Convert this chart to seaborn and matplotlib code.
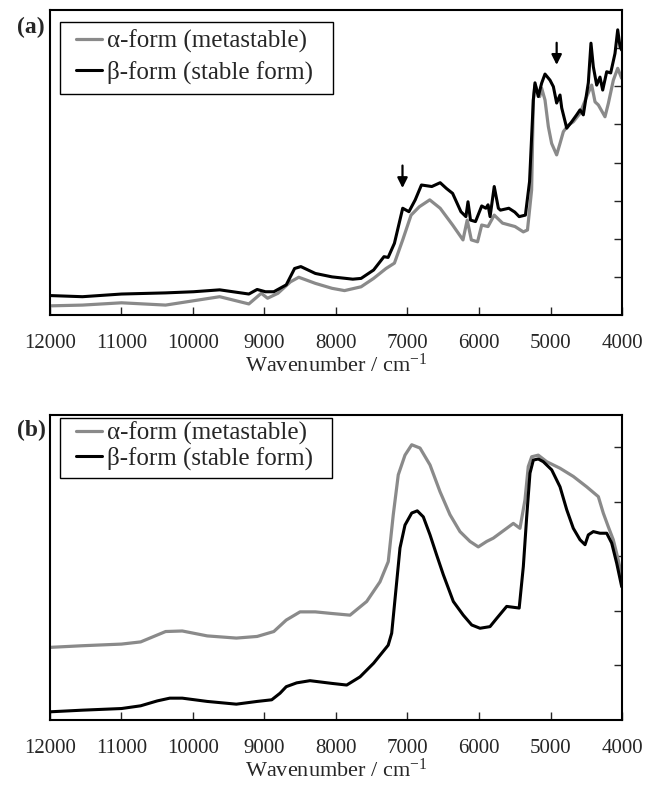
import matplotlib
matplotlib.use("Agg")
import matplotlib.pyplot as plt
from matplotlib.patches import Rectangle
import seaborn as sns
import pandas as pd

# ---------------- data ----------------
# Panel (a)
wn_a_beta = [12000, 11546, 11000, 10383, 9993, 9627, 9219, 9103, 8987, 8870,
             8696, 8579, 8492, 8289, 8056, 7765, 7649, 7474, 7329, 7271,
             7183, 7067, 6980, 6892, 6805, 6660, 6543, 6456, 6369, 6253,
             6183, 6154, 6119, 6049, 5962, 5904, 5874, 5845, 5787, 5729,
             5700, 5583, 5500, 5438, 5351, 5293, 5240, 5217, 5171, 5124,
             5077, 5007, 4960, 4914, 4867, 4843, 4773, 4703, 4634, 4587,
             4541, 4471, 4434, 4401, 4354, 4308, 4270, 4214, 4158, 4098,
             4060, 4028, 4005]
abs_a_beta = [0.051, 0.048, 0.055, 0.058, 0.061, 0.066, 0.055, 0.067, 0.061, 0.061,
              0.079, 0.122, 0.127, 0.109, 0.100, 0.094, 0.096, 0.118, 0.153, 0.151,
              0.188, 0.280, 0.271, 0.302, 0.341, 0.337, 0.347, 0.332, 0.319, 0.271,
              0.258, 0.297, 0.249, 0.245, 0.286, 0.280, 0.289, 0.258, 0.337, 0.280,
              0.275, 0.280, 0.270, 0.258, 0.262, 0.350, 0.564, 0.609, 0.573, 0.608,
              0.632, 0.616, 0.599, 0.556, 0.577, 0.543, 0.490, 0.507, 0.525, 0.538,
              0.525, 0.609, 0.713, 0.651, 0.603, 0.624, 0.590, 0.638, 0.635, 0.686,
              0.748, 0.704, 0.695]

wn_a_alpha = [12000, 11546, 11000, 10383, 9627, 9219, 9045, 8957, 8812, 8637,
              8521, 8289, 8056, 7881, 7649, 7474, 7300, 7183, 7067, 6950,
              6834, 6689, 6543, 6369, 6224, 6165, 6107, 6020, 5962, 5874,
              5787, 5671, 5496, 5380, 5322, 5264, 5240, 5217, 5150, 5124,
              5077, 5030, 4984, 4914, 4867, 4820, 4750, 4680, 4587, 4494,
              4424, 4377, 4331, 4238, 4191, 4121, 4060, 4005]
abs_a_alpha = [0.024, 0.026, 0.032, 0.026, 0.048, 0.029, 0.057, 0.044, 0.057, 0.087,
               0.099, 0.083, 0.070, 0.064, 0.074, 0.096, 0.122, 0.136, 0.197, 0.262,
               0.284, 0.302, 0.280, 0.236, 0.197, 0.249, 0.197, 0.192, 0.236, 0.232,
               0.262, 0.241, 0.232, 0.218, 0.223, 0.328, 0.564, 0.603, 0.573, 0.595,
               0.564, 0.494, 0.450, 0.420, 0.450, 0.481, 0.498, 0.507, 0.529, 0.573,
               0.603, 0.559, 0.551, 0.520, 0.555, 0.616, 0.647, 0.621]

# Panel (b)
wn_b_beta = [12000, 11546, 11000, 10732, 10499, 10325, 10150, 9801, 9394, 9103,
             8899, 8783, 8696, 8550, 8364, 8056, 7850, 7664, 7474, 7270,
             7221, 7151, 7105, 7035, 6941, 6863, 6779, 6685, 6592, 6499,
             6359, 6220, 6102, 5986, 5846, 5753, 5613, 5438, 5380, 5333,
             5287, 5240, 5171, 5101, 4983, 4867, 4773, 4681, 4587, 4517,
             4471, 4401, 4308, 4214, 4144, 4074, 4004]
abs_b_beta = [0.015, 0.018, 0.021, 0.026, 0.035, 0.040, 0.040, 0.034, 0.029, 0.034,
              0.037, 0.049, 0.061, 0.068, 0.072, 0.067, 0.064, 0.079, 0.104, 0.137,
              0.159, 0.253, 0.315, 0.357, 0.379, 0.383, 0.372, 0.339, 0.302, 0.266,
              0.217, 0.192, 0.174, 0.168, 0.171, 0.186, 0.208, 0.205, 0.281, 0.372,
              0.452, 0.476, 0.478, 0.473, 0.458, 0.427, 0.385, 0.351, 0.330, 0.321,
              0.339, 0.345, 0.342, 0.342, 0.324, 0.287, 0.244]

wn_b_alpha = [12000, 11546, 11000, 10732, 10383, 10150, 9801, 9394, 9103, 8870,
              8696, 8503, 8289, 8056, 7804, 7571, 7385, 7269, 7199, 7129,
              7035, 6941, 6825, 6685, 6545, 6406, 6266, 6126, 6010, 5892,
              5800, 5613, 5520, 5427, 5357, 5311, 5263, 5171, 5053, 4867,
              4681, 4494, 4331, 4262, 4192, 4122, 4052, 4004]
abs_b_alpha = [0.133, 0.136, 0.139, 0.143, 0.162, 0.163, 0.154, 0.150, 0.153, 0.162,
               0.183, 0.198, 0.198, 0.195, 0.192, 0.217, 0.253, 0.290, 0.376, 0.449,
               0.485, 0.504, 0.498, 0.467, 0.418, 0.376, 0.345, 0.327, 0.317, 0.327,
               0.333, 0.351, 0.360, 0.351, 0.403, 0.464, 0.482, 0.485, 0.473, 0.461,
               0.446, 0.427, 0.409, 0.379, 0.354, 0.330, 0.293, 0.263]

# arrows in panel (a): (wavenumber, tail value, head value)
arrow_wn = [7070, 4914]
arrow_tail = [0.392, 0.714]
arrow_head = [0.333, 0.656]

x_ticks = [12000, 11000, 10000, 9000, 8000, 7000, 6000, 5000, 4000]
label_alpha = "α-form (metastable)"
label_beta = "β-form (stable form)"
x_label = "Wavenumber / cm$^{-1}$"

# ---------------- style ----------------
sns.set_style("white")
plt.rcParams["font.family"] = ["Liberation Serif", "DejaVu Serif"]
plt.rcParams["mathtext.fontset"] = "custom"
plt.rcParams["mathtext.rm"] = "Liberation Serif"
plt.rcParams["mathtext.it"] = "Liberation Serif:italic"
plt.rcParams["mathtext.bf"] = "Liberation Serif:bold"

GRAY = "#8a8a8a"
BLACK = "#000000"

fig = plt.figure(figsize=(6.51, 7.98), dpi=100)
W, H = 651.0, 798.0
AXW, AXH = 572.0, 305.0
ax_a = fig.add_axes([50 / W, 1 - 315 / H, AXW / W, AXH / H])
ax_b = fig.add_axes([50 / W, 1 - 720 / H, AXW / W, AXH / H])


def draw(ax, wn_al, ab_al, wn_be, ab_be, ymax, yticks, leg_anchor,
         labelspacing, box):
    d_al = pd.DataFrame({"wn": wn_al, "a": ab_al})
    d_be = pd.DataFrame({"wn": wn_be, "a": ab_be})
    sns.lineplot(data=d_al, x="wn", y="a", ax=ax, color=GRAY, lw=2.3,
                 estimator=None, sort=False, label=label_alpha)
    sns.lineplot(data=d_be, x="wn", y="a", ax=ax, color=BLACK, lw=2.2,
                 estimator=None, sort=False, label=label_beta)
    ax.set_xlim(12000, 4000)
    ax.set_ylim(0, ymax)
    ax.set_xticks(x_ticks)
    ax.set_xticklabels([str(t) for t in x_ticks])
    ax.set_yticks(yticks)
    ax.tick_params(axis="x", direction="in", length=6, width=1, bottom=True,
                   top=False, labelsize=15, pad=14)
    ax.tick_params(axis="y", direction="in", length=6, width=1, left=False,
                   right=True, labelleft=False, labelright=False)
    for s in ax.spines.values():
        s.set_linewidth(1.5)
        s.set_color("black")
    ax.set_xlabel(x_label, fontsize=16, labelpad=0)
    ax.set_ylabel("")
    ax.legend(loc="upper left", bbox_to_anchor=leg_anchor,
              borderaxespad=0, fontsize=18, frameon=False,
              handlelength=1.05, handletextpad=0.2, borderpad=0,
              labelspacing=labelspacing)
    # legend frame (pixel box, relative to the axes)
    x0, y_top, x1, y_bot = box
    ax.add_patch(Rectangle((x0 / AXW, 1 - y_bot / AXH), (x1 - x0) / AXW,
                           (y_bot - y_top) / AXH, transform=ax.transAxes,
                           facecolor="white", edgecolor="black", lw=1.0,
                           zorder=4))


# legend boxes: (left, top, right, bottom) in pixels from the axes' top-left
draw(ax_a, wn_a_alpha, abs_a_alpha, wn_a_beta, abs_a_beta, 0.8,
     [0.1, 0.2, 0.3, 0.4, 0.5, 0.6, 0.7], (26 / AXW, 1 - 20 / AXH), 0.3,
     (10, 12, 283, 84))
draw(ax_b, wn_b_alpha, abs_b_alpha, wn_b_beta, abs_b_beta, 0.5585,
     [0.1, 0.2, 0.3, 0.4, 0.5], (26 / AXW, 1 - 7 / AXH), 0.06,
     (10, 3, 282, 63))

for xw, yt, yh in zip(arrow_wn, arrow_tail, arrow_head):
    ax_a.annotate("", xy=(xw, yh), xytext=(xw, yt),
                  arrowprops=dict(arrowstyle="-|>", color="black", lw=1.6,
                                  mutation_scale=15, shrinkA=0, shrinkB=0))

fig.text(31 / W, 1 - 27 / H, "(a)", ha="center", va="center", fontsize=17,
         fontweight="bold")
fig.text(31 / W, 1 - 430 / H, "(b)", ha="center", va="center", fontsize=17,
         fontweight="bold")

fig.savefig("out.png", dpi=100)
